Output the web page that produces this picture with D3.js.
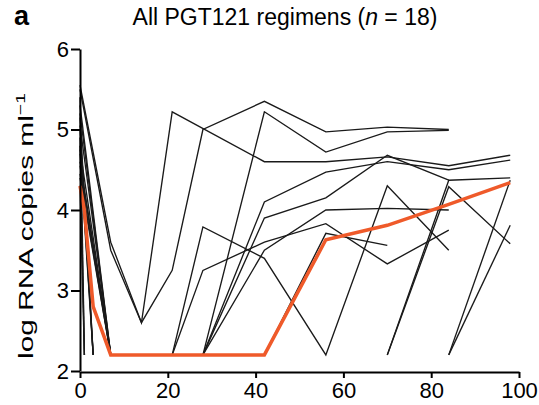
<!DOCTYPE html>
<html>
<head>
<meta charset="utf-8">
<script src="https://cdn.jsdelivr.net/npm/d3@7.9.0/dist/d3.min.js"></script>
<style>
  body { margin: 0; background: #fff; }
  text { font-family: "Liberation Sans", Arial, sans-serif; }
</style>
</head>
<body>
<div id="chart"></div>
<script>
// sampling days (x) shared by every animal
const days = [0, 1, 3, 7, 14, 21, 28, 42, 56, 70, 84, 98];
const LOD = 2.2; // detection limit, segments along it are not drawn for single animals

// log RNA copies/ml per animal, null = no point
const animals = [
  [5.55, null, null, 3.6, 2.6, 5.22, null, 4.6, 4.6, 4.66, 4.55, 4.68],
  [5.5, null, null, 3.5, 2.6, 3.25, 5.0, 5.35, 4.97, 5.03, 5.0, null],
  [5.0, null, 2.2, null, null, null, 2.2, 5.22, 4.72, 4.97, 4.99, null],
  [4.9, 2.2, null, null, null, 2.2, 3.79, 3.4, 2.2, 4.3, 3.5, null],
  [5.2, null, null, 2.2, null, 2.2, 3.25, 3.6, 3.83, 3.33, 3.75, null],
  [4.7, null, 2.2, null, null, null, 2.2, 4.1, 4.47, 4.6, 4.5, 4.62],
  [5.3, null, null, 2.2, null, null, 2.2, 3.9, 4.15, 4.68, 4.37, null],
  [4.6, null, null, 2.2, null, null, 2.2, 3.5, 4.0, 4.02, 4.0, null],
  [4.4, null, null, 2.2, null, null, null, 2.2, 3.71, 3.56, null, null],
  [5.4, 2.2, null, null, null, null, null, null, null, 2.2, 4.29, 3.58],
  [4.8, null, 2.2, null, null, null, null, null, null, 2.2, 4.37, 4.4],
  [5.05, null, null, 2.2, null, null, null, null, null, null, 2.2, 4.37],
  [4.45, null, null, 2.2, null, null, null, null, null, null, 2.2, 3.81],
  [4.3, 2.2, null, null, null, null, null, null, null, null, null, null],
  [5.15, null, 2.2, null, null, null, null, null, null, null, null, null],
  [4.75, null, null, 2.2, null, null, null, null, null, null, null, null],
  [4.55, null, null, 2.2, null, null, null, null, null, null, null, null]
];

// group mean (orange)
const meanDays = [0, 1, 2, 3, 7, 14, 21, 28, 42, 56, 70, 84, 98];
const meanValues = [4.3, 4.0, 3.4, 2.8, 2.2, 2.2, 2.2, 2.2, 2.2, 3.63, 3.81, 4.07, 4.34];

const xTicks = [0, 20, 40, 60, 80, 100];
const yTicks = [2, 3, 4, 5, 6];

const width = 539, height = 405;
const svg = d3.select('#chart').append('svg')
  .attr('width', width).attr('height', height);

const x = d3.scaleLinear().domain([0, 100]).range([80, 519]);
const y = d3.scaleLinear().domain([2, 6]).range([371, 49]);

const line = d3.line().x(d => x(d.day)).y(d => y(d.v));

// black lines, split where two neighbouring points sit on the detection limit
animals.forEach(vals => {
  const pts = days.map((day, i) => ({ day, v: vals[i] })).filter(d => d.v != null);
  const parts = [];
  let cur = [pts[0]];
  for (let i = 1; i < pts.length; i++) {
    if (pts[i].v === LOD && pts[i - 1].v === LOD) {
      parts.push(cur);
      cur = [pts[i]];
    } else {
      cur.push(pts[i]);
    }
  }
  parts.push(cur);
  parts.filter(p => p.length > 1).forEach(p => {
    svg.append('path')
      .datum(p)
      .attr('fill', 'none')
      .attr('stroke', '#1a1a1a')
      .attr('stroke-width', 1.35)
      .attr('d', line);
  });
});

svg.append('path')
  .datum(meanDays.map((day, i) => ({ day, v: meanValues[i] })))
  .attr('fill', 'none')
  .attr('stroke', '#ef5a2a')
  .attr('stroke-width', 3.5)
  .attr('d', line);

const yAxis = svg.append('g')
  .attr('transform', 'translate(80,0)')
  .call(d3.axisLeft(y).tickValues(yTicks).tickSize(9).tickSizeOuter(0).tickPadding(2).tickFormat(d3.format('d')));

const xAxis = svg.append('g')
  .attr('transform', `translate(0,${y(2) + 1})`)
  .call(d3.axisBottom(x).tickValues(xTicks).tickSize(6).tickSizeOuter(0).tickPadding(4).tickFormat(d3.format('d')));

[yAxis, xAxis].forEach(g => {
  g.select('.domain').attr('stroke', '#000').attr('stroke-width', 2);
  g.selectAll('.tick line').attr('stroke', '#000').attr('stroke-width', 2);
  g.selectAll('.tick text')
    .attr('fill', '#000')
    .style('font-size', '22px')
    .style('font-family', '"Liberation Sans", Arial, sans-serif');
});

// y axis title
const yl = svg.append('text')
  .attr('transform', 'translate(33,226) rotate(-90)')
  .attr('text-anchor', 'middle')
  .attr('textLength', 266)
  .attr('lengthAdjust', 'spacingAndGlyphs')
  .style('font-size', '20px');
yl.append('tspan').text('log RNA copies ml');
yl.append('tspan').attr('dy', -8).style('font-size', '13px').text('\u22121');

// panel letter and title
svg.append('text')
  .attr('x', 14).attr('y', 25)
  .style('font-size', '27px').style('font-weight', 'bold')
  .text('a');

const title = svg.append('text')
  .attr('x', 285).attr('y', 25)
  .attr('text-anchor', 'middle')
  .style('font-size', '23px');
title.append('tspan').text('All PGT121 regimens (');
title.append('tspan').style('font-style', 'italic').text('n');
title.append('tspan').text(' = 18)');
</script>
</body>
</html>
